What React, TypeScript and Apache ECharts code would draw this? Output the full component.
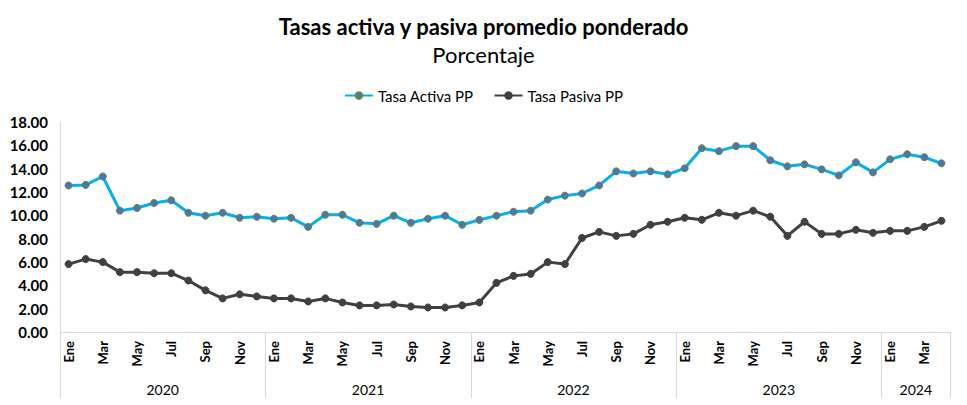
import { useEffect, useRef } from "react";
import * as echarts from "echarts";

const months = ["Ene", "Feb", "Mar", "Abr", "May", "Jun", "Jul", "Ago", "Sep", "Oct", "Nov", "Dic"];
const years = ["2020", "2021", "2022", "2023", "2024"];
const monthsPerYear = [12, 12, 12, 12, 4];

const tasaActiva = [
  12.56, 12.61, 13.33, 10.40, 10.63, 11.06, 11.29, 10.22, 9.97, 10.22, 9.79, 9.88,
  9.71, 9.79, 9.01, 10.05, 10.05, 9.36, 9.27, 9.97, 9.36, 9.71, 9.97, 9.19,
  9.61, 9.97, 10.31, 10.40, 11.35, 11.69, 11.87, 12.56, 13.77, 13.59, 13.77, 13.51,
  14.03, 15.75, 15.50, 15.93, 15.93, 14.72, 14.20, 14.37, 13.94, 13.42, 14.54, 13.68,
  14.80, 15.24, 14.98, 14.46,
];
const tasaPasiva = [
  5.82, 6.25, 5.99, 5.13, 5.13, 5.04, 5.04, 4.41, 3.57, 2.88, 3.23, 3.05,
  2.88, 2.88, 2.62, 2.88, 2.53, 2.28, 2.28, 2.36, 2.19, 2.10, 2.10, 2.28,
  2.53, 4.21, 4.81, 4.98, 5.99, 5.82, 8.06, 8.58, 8.24, 8.41, 9.19, 9.45,
  9.79, 9.62, 10.22, 9.97, 10.40, 9.88, 8.24, 9.45, 8.41, 8.41, 8.76, 8.50,
  8.67, 8.67, 9.01, 9.53,
];

const yMin = 0;
const yMax = 18;
const yStep = 2;

const FONT = "Lato, 'Noto Sans', sans-serif";

export default function App() {
  const ref = useRef<HTMLDivElement>(null);

  useEffect(() => {
    if (!ref.current) return;
    const chart = echarts.init(ref.current, undefined, { renderer: "svg" });

    const categories: string[] = [];
    const yearStarts: number[] = [];
    const yearCenters: Record<number, string> = {};
    let acc = 0;
    years.forEach((y, i) => {
      yearStarts.push(acc);
      yearCenters[acc + monthsPerYear[i] / 2] = y;
      for (let m = 0; m < monthsPerYear[i]; m++) categories.push(months[m]);
      acc += monthsPerYear[i];
    });
    const total = acc;

    chart.setOption({
      animation: false,
      backgroundColor: "#ffffff",
      textStyle: { fontFamily: FONT },
      title: [
        {
          text: "Tasas activa y pasiva promedio ponderado",
          left: "center",
          top: 10,
          textStyle: { fontFamily: FONT, fontSize: 22, fontWeight: "bold", color: "#000" },
        },
        {
          text: "Porcentaje",
          left: "center",
          top: 38,
          textStyle: { fontFamily: FONT, fontSize: 22, fontWeight: "normal", color: "#000" },
        },
      ],
      legend: {
        top: 83,
        left: "center",
        itemWidth: 28,
        itemHeight: 8,
        itemGap: 20,
        textStyle: { fontFamily: FONT, fontSize: 15, color: "#000" },
        data: ["Tasa Activa PP", "Tasa Pasiva PP"],
      },
      grid: { left: 60, right: 17, top: 122, bottom: 73, containLabel: false },
      xAxis: [
        {
          type: "category",
          data: categories,
          boundaryGap: true,
          axisLine: { show: true, lineStyle: { color: "#d9d9d9", width: 1 } },
          axisTick: {
            show: true,
            length: 66,
            interval: (index: number) => yearStarts.includes(index) || index === total,
            lineStyle: { color: "#d9d9d9", width: 1 },
          },
          axisLabel: {
            interval: 1,
            rotate: 90,
            margin: 9,
            fontFamily: FONT,
            fontSize: 13,
            fontWeight: "bold",
            color: "#000",
          },
          splitLine: { show: false },
        },
        {
          type: "value",
          position: "bottom",
          min: 0,
          max: total,
          interval: 2,
          axisLine: { show: false },
          axisTick: { show: false },
          splitLine: { show: false },
          axisLabel: {
            margin: 50,
            fontFamily: FONT,
            fontSize: 14,
            color: "#000",
            showMinLabel: true,
            showMaxLabel: true,
            formatter: (v: number) => yearCenters[v] ?? "",
          },
        },
      ],
      yAxis: {
        type: "value",
        min: yMin,
        max: yMax,
        interval: yStep,
        axisLine: { show: true, lineStyle: { color: "#d9d9d9", width: 1 } },
        axisTick: { show: false },
        splitLine: { show: false },
        axisLabel: {
          margin: 12,
          fontFamily: FONT,
          fontSize: 15,
          fontWeight: "bold",
          color: "#000",
          formatter: (v: number) => v.toFixed(2),
        },
      },
      series: [
        {
          name: "Tasa Activa PP",
          type: "line",
          data: tasaActiva,
          symbol: "circle",
          symbolSize: 7,
          lineStyle: { color: "#00b0f0", width: 3 },
          itemStyle: { color: "#4e74b4", borderColor: "#5f8a3c", borderWidth: 1 },
        },
        {
          name: "Tasa Pasiva PP",
          type: "line",
          data: tasaPasiva,
          symbol: "circle",
          symbolSize: 7,
          lineStyle: { color: "#404040", width: 3 },
          itemStyle: { color: "#404040", borderColor: "#404040", borderWidth: 1 },
        },
      ],
    });

    return () => chart.dispose();
  }, []);

  return (
    <div
      ref={ref}
      style={{ position: "fixed", left: 0, top: 0, width: 967, height: 405 }}
    />
  );
}
